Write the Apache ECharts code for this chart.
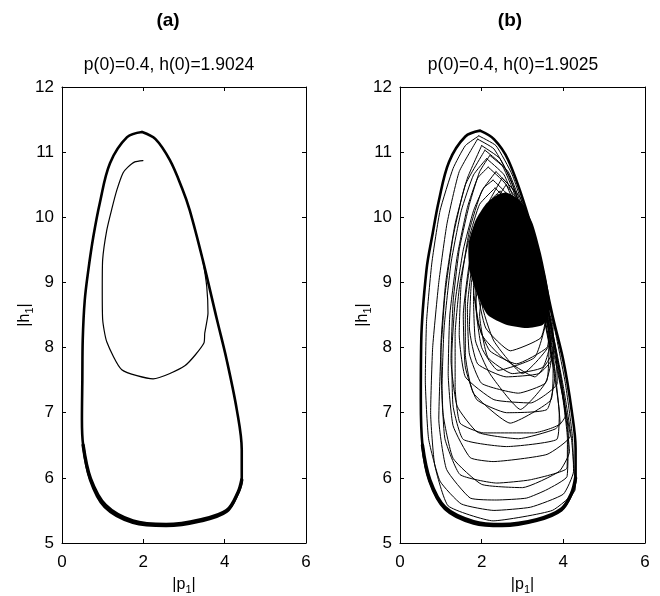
<!DOCTYPE html>
<html><head><meta charset="utf-8">
<script src="https://cdn.jsdelivr.net/npm/echarts@6/dist/echarts.min.js"></script>
<style>html,body{margin:0;padding:0;background:#fff}#c{width:660px;height:596px}</style>
</head><body><div id="c"></div>
<script>
// ---- data ----
var xTicks = [0, 2, 4, 6];
var yTicks = [5, 6, 7, 8, 9, 10, 11, 12];
var panelTitles = ['(a)', '(b)'];
var panelSubtitles = ['p(0)=0.4, h(0)=1.9024', 'p(0)=0.4, h(0)=1.9025'];

var leftOuter = [[1.97,11.31],[2.3,11.2],[2.65,10.88],[2.95,10.45],[3.14,10.11],[3.46,9.35],[3.81,8.43],[4.05,7.81],[4.3,7.04],[4.42,6.43],[4.42,5.97],[4.33,5.77],[4.05,5.48],[3.39,5.33],[2.56,5.26],[1.74,5.31],[1.05,5.55],[0.69,5.97],[0.52,6.5],[0.49,6.9],[0.5,7.5],[0.51,8.12],[0.56,8.73],[0.65,9.2],[0.77,9.7],[0.93,10.22],[1.18,10.83],[1.6,11.23],[1.97,11.31]];
var leftBand = [[0.52,6.5],[0.7,5.99],[1.07,5.58],[1.74,5.34],[2.56,5.285],[3.39,5.355],[4.05,5.5],[4.33,5.78],[4.42,5.97]];
var leftInner = [[1.99,10.87],[1.79,10.85],[1.62,10.77],[1.5,10.68],[1.35,10.42],[1.23,10.14],[1.1,9.8],[1.0,9.35],[0.99,8.9],[1.0,8.43],[1.1,8.09],[1.47,7.66],[2.24,7.52],[3.02,7.72],[3.49,8.07],[3.51,8.22],[3.59,8.53],[3.56,8.93],[3.46,9.35],[3.4,9.5]];

var rightOuter = [[1.96,11.33],[2.3,11.2],[2.65,10.88],[3.1,10.1],[3.45,9.3],[3.75,8.45],[4.0,7.8],[4.2,7.05],[4.3,6.45],[4.3,6.0],[4.2,5.75],[3.95,5.5],[3.35,5.34],[2.5,5.26],[1.8,5.3],[1.1,5.52],[0.72,5.95],[0.55,6.5],[0.51,7.2],[0.52,8.1],[0.65,9.2],[0.8,9.75],[0.95,10.25],[1.2,10.85],[1.6,11.24],[1.96,11.33]];
var rightBand = [[0.55,6.5],[0.73,5.97],[1.1,5.55],[1.8,5.33],[2.5,5.285],[3.35,5.36],[3.95,5.52],[4.2,5.76],[4.3,6.0]];
var rightLoops = [
  [[1.9,11.2],[2.3,11.05],[2.7,10.6],[3.1,9.85],[3.45,9.0],[3.75,8.2],[4.0,7.4],[4.2,6.6],[4.29,5.82],[3.73,5.5],[2.28,5.34],[1.18,5.57],[0.85,6.2],[0.75,7.0],[0.8,8.0],[0.95,9.0],[1.15,9.9],[1.45,10.7],[1.9,11.2]],
  [[1.93,11.25],[2.35,11.1],[2.75,10.65],[3.15,9.9],[3.5,9.05],[3.8,8.25],[4.05,7.45],[4.22,6.65],[4.25,6.1],[4.0,5.75],[3.2,5.55],[2.3,5.5],[1.5,5.6],[0.98,5.95],[0.7,6.6],[0.62,7.5],[0.65,8.4],[0.78,9.3],[0.98,10.1],[1.3,10.75],[1.6,11.1],[1.93,11.25]],
  [[2.08,11.03],[2.5,10.8],[2.9,10.2],[3.3,9.3],[3.65,8.4],[3.95,7.5],[4.12,6.7],[4.09,6.02],[3.6,5.82],[3.1,5.69],[2.37,5.66],[1.72,5.69],[1.14,6.13],[0.95,6.9],[1.0,7.9],[1.1,8.8],[1.3,9.7],[1.6,10.5],[2.08,11.03]],
  [[2.0,11.1],[2.45,10.9],[2.85,10.35],[3.25,9.5],[3.6,8.6],[3.85,7.8],[4.05,7.0],[4.15,6.4],[3.9,6.1],[3.0,5.85],[2.0,5.9],[1.3,6.3],[1.05,7.0],[1.0,8.0],[1.12,9.0],[1.35,9.9],[1.65,10.6],[2.0,11.1]],
  [[2.12,10.9],[2.55,10.65],[2.95,10.0],[3.35,9.1],[3.7,8.2],[3.97,7.3],[4.1,6.6],[4.09,6.15],[3.19,5.97],[2.37,5.92],[1.47,6.05],[1.1,6.6],[1.03,7.4],[1.08,8.3],[1.25,9.3],[1.5,10.1],[1.8,10.65],[2.12,10.9]],
  [[2.16,10.77],[2.6,10.5],[3.0,9.85],[3.4,8.9],[3.75,7.95],[4.0,7.2],[4.17,6.64],[3.6,6.36],[2.28,6.25],[1.72,6.31],[1.3,6.8],[1.18,7.6],[1.22,8.5],[1.4,9.4],[1.65,10.15],[1.9,10.6],[2.16,10.77]],
  [[2.2,10.95],[2.65,10.7],[3.05,10.05],[3.42,9.2],[3.72,8.3],[3.95,7.5],[4.05,6.95],[3.8,6.75],[2.9,6.6],[1.9,6.7],[1.4,7.1],[1.25,7.8],[1.3,8.7],[1.45,9.5],[1.7,10.2],[1.95,10.7],[2.2,10.95]],
  [[2.28,10.57],[2.7,10.3],[3.1,9.6],[3.45,8.7],[3.75,7.7],[3.9,7.0],[3.84,6.59],[2.61,6.48],[1.55,6.59],[1.3,7.1],[1.27,7.9],[1.35,8.7],[1.55,9.5],[1.8,10.1],[2.05,10.45],[2.28,10.57]],
  [[2.33,10.45],[2.75,10.15],[3.15,9.45],[3.5,8.6],[3.8,7.6],[3.92,6.84],[3.27,6.69],[2.04,6.69],[1.47,6.84],[1.35,7.4],[1.35,8.2],[1.47,9.0],[1.7,9.7],[1.95,10.2],[2.33,10.45]],
  [[2.35,10.7],[2.8,10.4],[3.2,9.7],[3.55,8.8],[3.82,7.9],[3.85,7.45],[3.2,7.15],[2.3,7.2],[1.6,7.55],[1.45,8.2],[1.5,9.0],[1.7,9.8],[2.0,10.4],[2.35,10.7]],
  [[2.4,10.35],[2.8,10.0],[3.2,9.3],[3.55,8.4],[3.75,7.7],[3.7,7.2],[2.7,6.84],[1.8,7.3],[1.6,7.9],[1.6,8.7],[1.75,9.4],[2.0,9.95],[2.4,10.35]],
  [[2.45,10.4],[2.9,10.05],[3.3,9.25],[3.6,8.4],[3.8,7.6],[3.6,7.05],[2.61,7.0],[1.88,7.2],[1.6,7.7],[1.55,8.5],[1.7,9.3],[1.95,9.9],[2.2,10.25],[2.45,10.4]],
  [[2.5,10.6],[2.95,10.3],[3.3,9.6],[3.6,8.7],[3.78,8.0],[3.3,7.55],[2.5,7.85],[2.0,8.2],[1.8,8.9],[1.9,9.6],[2.15,10.2],[2.5,10.6]],
  [[2.5,10.3],[2.95,9.95],[3.35,9.1],[3.65,8.3],[3.7,7.8],[3.55,7.45],[2.9,7.3],[2.0,7.45],[1.7,7.9],[1.65,8.6],[1.8,9.4],[2.1,9.95],[2.5,10.3]],
  [[2.55,10.2],[3.0,9.8],[3.4,9.0],[3.65,8.2],[3.6,7.5],[2.95,7.05],[2.2,7.6],[1.85,8.1],[1.8,8.8],[1.95,9.5],[2.25,10.0],[2.55,10.2]],
  [[2.6,10.5],[3.0,10.15],[3.35,9.4],[3.6,8.6],[3.45,8.15],[2.7,7.95],[2.1,8.3],[1.9,8.9],[2.0,9.6],[2.25,10.15],[2.6,10.5]],
  [[2.65,10.25],[3.05,9.85],[3.45,9.0],[3.75,8.2],[3.75,7.85],[3.4,7.6],[2.6,7.55],[1.9,7.75],[1.7,8.3],[1.75,9.0],[1.95,9.6],[2.3,10.05],[2.65,10.25]],
  [[2.7,10.1],[3.1,9.7],[3.45,8.9],[3.65,8.3],[3.6,8.0],[2.85,7.75],[2.2,7.95],[1.9,8.4],[1.85,9.0],[2.0,9.6],[2.35,9.95],[2.7,10.1]],
  [[2.75,10.15],[3.2,9.7],[3.5,8.9],[3.7,8.1],[3.0,7.6],[2.3,8.1],[2.0,8.7],[2.05,9.4],[2.35,9.9],[2.75,10.15]],
  [[2.9,9.6],[3.4,9.0],[3.75,8.3],[3.5,7.7],[2.75,7.6],[2.15,7.85],[1.95,8.5],[2.1,9.1],[2.5,9.5],[2.9,9.6]],
  [[2.7,9.8],[3.3,9.2],[3.6,8.5],[3.3,7.85],[2.4,7.65],[2.0,8.0],[1.85,8.7],[2.1,9.3],[2.7,9.8]]
];
var rightCore = [[2.6,10.38],[2.95,10.25],[3.25,9.9],[3.45,9.45],[3.6,9.0],[3.68,8.6],[3.5,8.35],[3.1,8.3],[2.6,8.35],[2.15,8.5],[1.9,8.8],[1.7,9.2],[1.68,9.6],[1.85,9.95],[2.1,10.2],[2.35,10.33]];

// ---- chart ----
var FONT = 'Liberation Sans, Arial, sans-serif';
var chart = echarts.init(document.getElementById('c'), null, {renderer: 'canvas'});
var grids = [
  {left: 62, top: 87, width: 244, height: 456, containLabel: false, outerBoundsMode: 'none'},
  {left: 400, top: 87, width: 245, height: 456, containLabel: false, outerBoundsMode: 'none'}
];
var richSub = {s: {fontSize: 11, padding: [9, 0, 0, 0], color: '#000', fontFamily: FONT}};
function mkX(g, pos, lab) {
  return {type: 'value', gridIndex: g, position: pos, min: 0, max: 6, interval: 2,
    axisLine: {onZero: false, lineStyle: {color: '#000', width: 1}},
    axisTick: {inside: true, length: 4, lineStyle: {color: '#000'}},
    axisLabel: {show: lab, color: '#000', fontFamily: FONT, fontSize: 17, margin: 11,
      formatter: function (v) { return xTicks.indexOf(v) >= 0 ? String(v) : ''; }},
    splitLine: {show: false},
    name: lab ? '|p{s|1}|' : '', nameLocation: 'middle', nameGap: 32, nameMoveOverlap: false,
    nameTextStyle: {color: '#000', fontFamily: FONT, fontSize: 16, rich: richSub}
  };
}
function mkY(g, pos, lab) {
  return {type: 'value', gridIndex: g, position: pos, min: 5, max: 12, interval: 1,
    axisLine: {onZero: false, lineStyle: {color: '#000', width: 1}},
    axisTick: {inside: true, length: 4, lineStyle: {color: '#000'}},
    axisLabel: {show: lab, color: '#000', fontFamily: FONT, fontSize: 17, margin: 8,
      formatter: function (v) { return yTicks.indexOf(v) >= 0 ? String(v) : ''; }},
    splitLine: {show: false},
    name: lab ? '|h{s|1}|' : '', nameLocation: 'middle', nameGap: 27, nameRotate: 90, nameMoveOverlap: false,
    nameTextStyle: {color: '#000', fontFamily: FONT, fontSize: 16, rich: richSub}
  };
}
var xAxes = [mkX(0, 'bottom', true), mkX(0, 'top', false), mkX(1, 'bottom', true), mkX(1, 'top', false)];
var yAxes = [mkY(0, 'left', true), mkY(0, 'right', false), mkY(1, 'left', true), mkY(1, 'right', false)];

function line(data, xi, yi, w, smooth) {
  return {type: 'line', xAxisIndex: xi, yAxisIndex: yi, data: data, showSymbol: false, symbol: 'none',
    smooth: smooth, lineStyle: {color: '#000', width: w, cap: 'round', join: 'round'}, silent: true, animation: false, z: 3};
}
var series = [];
series.push(line(leftOuter, 0, 0, 2.6, 0.35));
series.push(line(leftBand, 0, 0, 3.4, 0.35));
series.push(line(leftInner, 0, 0, 1.2, 0.2));
series.push({type: 'custom', xAxisIndex: 2, yAxisIndex: 2, data: [[3, 9]], animation: false, silent: true, z: 2,
  renderItem: function (params, api) {
    var pts = rightCore.map(function (p) { return api.coord(p); });
    return {type: 'polygon', shape: {points: pts, smooth: 0.2}, style: {fill: '#000'}};
  }});
series.push(line(rightOuter, 2, 2, 2.6, 0.35));
series.push(line(rightBand, 2, 2, 3.4, 0.35));
rightLoops.forEach(function (lp) { series.push(line(lp, 2, 2, 1, 0.15)); });

var textStyle = function (size, bold) { return {fill: '#000', font: (bold ? 'bold ' : '') + size + 'px ' + FONT, textAlign: 'center', textVerticalAlign: 'middle'}; };
chart.setOption({
  backgroundColor: '#fff',
  animation: false,
  grid: grids,
  xAxis: xAxes,
  yAxis: yAxes,
  series: series,
  graphic: [
    {type: 'text', x: 168, y: 21, style: Object.assign({text: panelTitles[0]}, textStyle(19, true))},
    {type: 'text', x: 510, y: 21, style: Object.assign({text: panelTitles[1]}, textStyle(19, true))},
    {type: 'text', x: 169, y: 65, style: Object.assign({text: panelSubtitles[0]}, textStyle(17.5, false))},
    {type: 'text', x: 513, y: 65, style: Object.assign({text: panelSubtitles[1]}, textStyle(17.5, false))}
  ]
});
</script></body></html>
